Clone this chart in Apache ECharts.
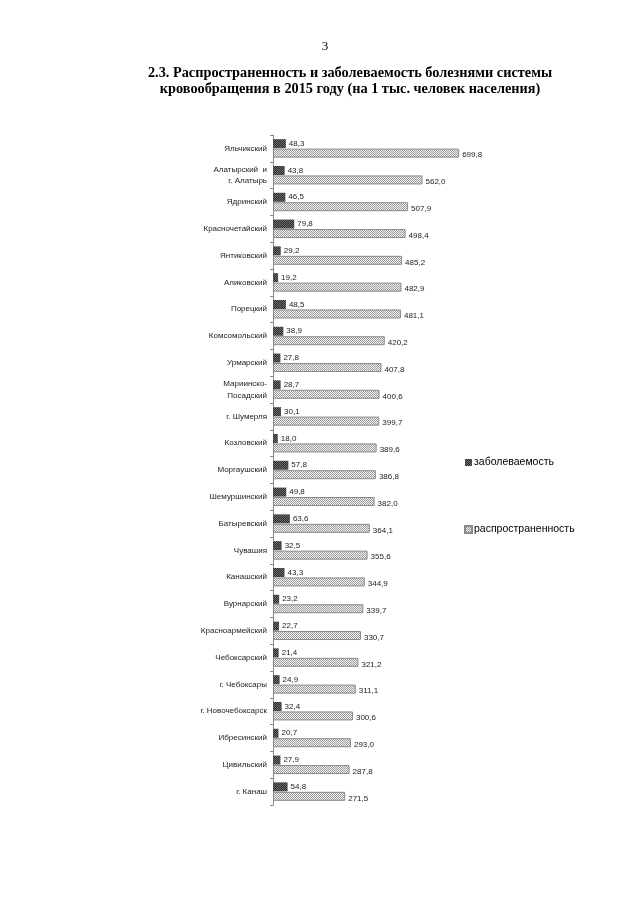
<!DOCTYPE html>
<html><head><meta charset="utf-8">
<script src="https://cdn.jsdelivr.net/npm/echarts@6/dist/echarts.min.js"></script>
<style>html,body{margin:0;padding:0;background:#fff;}#c{width:640px;height:905px;}</style>
</head><body><div id="c"></div>
<script>
const categories = ["Яльчикский","Алатырский  и\nг. Алатырь","Ядринский","Красночетайский","Янтиковский","Аликовский","Порецкий","Комсомольский","Урмарский","Мариинско-\nПосадский","г. Шумерля","Козловский","Моргаушский","Шемуршинский","Батыревский","Чувашия","Канашский","Вурнарский","Красноармейский","Чебоксарский","г. Чебоксары","г. Новочебоксарск","Ибресинский","Цивильский","г. Канаш"];
const incidence = [48.3,43.8,46.5,79.8,29.2,19.2,48.5,38.9,27.8,28.7,30.1,18.0,57.8,49.8,63.6,32.5,43.3,23.2,22.7,21.4,24.9,32.4,20.7,27.9,54.8];
const prevalence = [699.8,562.0,507.9,498.4,485.2,482.9,481.1,420.2,407.8,400.6,399.7,389.6,386.8,382.0,364.1,355.6,344.9,339.7,330.7,321.2,311.1,300.6,293.0,287.8,271.5];
const seriesNames = ["заболеваемость","распространенность"];

function pattern(a,b){
  const c=document.createElement('canvas');c.width=2;c.height=2;
  const g=c.getContext('2d');
  g.fillStyle=a;g.fillRect(0,0,2,2);
  g.fillStyle=b;g.fillRect(0,0,1,1);g.fillRect(1,1,1,1);
  return {image:c,repeat:'repeat'};
}
const fmt = p => p.value.toFixed(1).replace('.',',');
const chart = echarts.init(document.getElementById('c'));
chart.setOption({
  animation:false,
  backgroundColor:'#fff',
  title:[
    {text:'3',left:320,top:35,textAlign:'center',textStyle:{fontFamily:'Liberation Serif',fontWeight:'normal',fontSize:13,color:'#000'}},
    {text:'2.3. Распространенность и заболеваемость болезнями системы\nкровообращения в 2015 году (на 1 тыс. человек населения)',left:345,top:60,textAlign:'center',
     textStyle:{fontFamily:'Liberation Serif',fontWeight:'bold',fontSize:14.3,lineHeight:16.5,color:'#000'}}
  ],
  legend:{orient:'vertical',left:459,top:452,itemWidth:7,itemHeight:7,itemGap:56,
    icon:'rect',textStyle:{fontFamily:'Liberation Sans',fontSize:10.5,color:'#000',padding:[0,0,0,-3]},
    data:seriesNames},
  grid:{left:273,top:135,width:266,height:670,containLabel:false},
  xAxis:{type:'value',min:0,max:1000,show:false},
  yAxis:{type:'category',inverse:true,data:categories,
    axisLine:{lineStyle:{color:'#888',width:1}},
    axisTick:{show:true,length:3,lineStyle:{color:'#888'}},
    axisLabel:{fontFamily:'Liberation Sans',fontSize:8,color:'#222',margin:6,lineHeight:11.5}},
  series:[
    {name:seriesNames[0],type:'bar',data:incidence,barWidth:9,barGap:'5%',
     itemStyle:{color:pattern('#2e2e2e','#6a6a6a')},
     label:{show:true,position:'right',distance:3,formatter:fmt,fontFamily:'Liberation Sans',fontSize:8,color:'#222'}},
    {name:seriesNames[1],type:'bar',data:prevalence,barWidth:9,
     itemStyle:{color:pattern('#f4f4f4','#9a9a9a'),borderColor:'#8a8a8a',borderWidth:1},
     label:{show:true,position:'right',distance:3,offset:[0,2],formatter:fmt,fontFamily:'Liberation Sans',fontSize:8,color:'#222'}}
  ]
});
</script></body></html>
